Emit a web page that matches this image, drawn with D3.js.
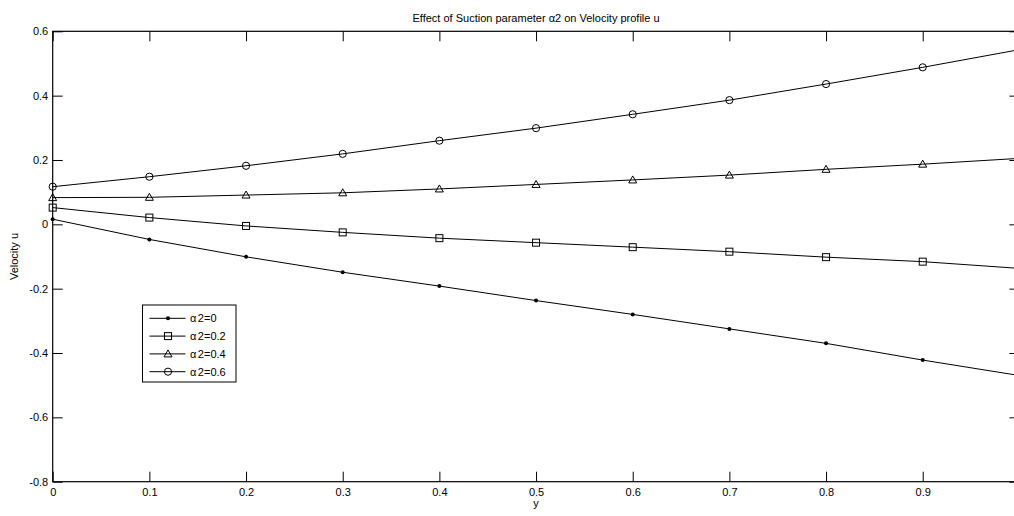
<!DOCTYPE html>
<html>
<head>
<meta charset="utf-8">
<script src="https://cdn.jsdelivr.net/npm/d3@7"></script>
<style>
  body { margin: 0; background: #fff; }
  text { font-family: "Liberation Sans", Arial, sans-serif; font-size: 11px; fill: #000; }
  .axis path.domain { display: none; }
  .axis line { stroke: #000; stroke-width: 1; }
</style>
</head>
<body>
<div id="chart"></div>
<script>
// y positions where u is evaluated
var yVals = [0, 0.1, 0.2, 0.3, 0.4, 0.5, 0.6, 0.7, 0.8, 0.9, 1.0];

// velocity u for each suction parameter alpha2
var uAlpha0  = [0.016, -0.047, -0.101, -0.149, -0.192, -0.237, -0.280, -0.325, -0.370, -0.422, -0.470];
var uAlpha02 = [0.052, 0.021, -0.005, -0.025, -0.043, -0.057, -0.071, -0.085, -0.102, -0.116, -0.137];
var uAlpha04 = [0.083, 0.084, 0.091, 0.098, 0.110, 0.124, 0.138, 0.153, 0.171, 0.187, 0.205];
var uAlpha06 = [0.117, 0.148, 0.182, 0.219, 0.260, 0.299, 0.342, 0.386, 0.436, 0.488, 0.543];

var seriesNames = ["0", "0.2", "0.4", "0.6"];
var seriesMarkers = ["dot", "square", "triangle", "circle"];

// the tick at 1 falls just outside the window, so it is left out
var xTicks = [0, 0.1, 0.2, 0.3, 0.4, 0.5, 0.6, 0.7, 0.8, 0.9];
var yTicks = [-0.8, -0.6, -0.4, -0.2, 0, 0.2, 0.4, 0.6];

var series = [uAlpha0, uAlpha02, uAlpha04, uAlpha06].map(function(vals, i) {
  return {
    name: seriesNames[i],
    marker: seriesMarkers[i],
    points: vals.map(function(v, j) { return {y: yVals[j], u: v}; })
  };
});

var totalW = 1014, totalH = 516;
var margin = {top: 31.3, left: 52.7, right: -5.4, bottom: 34.3};
var width = totalW - margin.left - margin.right,
    height = totalH - margin.top - margin.bottom;

var svg = d3.select("#chart").append("svg")
    .attr("width", totalW)
    .attr("height", totalH);

var g = svg.append("g")
    .attr("transform", "translate(" + margin.left + "," + margin.top + ")");

var x = d3.scaleLinear().domain([0, 1]).range([0, width]);
var y = d3.scaleLinear().domain([-0.8, 0.6]).range([height, 0]);

var fmt = function(d) { return String(+d.toFixed(1)); };

// axes with inward ticks, like matlab
g.append("g").attr("class", "axis")
    .attr("transform", "translate(0," + height + ")")
    .call(d3.axisBottom(x).tickValues(xTicks).tickFormat(fmt).tickSizeInner(-10).tickSizeOuter(0).tickPadding(7));

g.append("g").attr("class", "axis")
    .call(d3.axisTop(x).tickValues(xTicks).tickFormat("").tickSizeInner(-10).tickSizeOuter(0));

g.append("g").attr("class", "axis")
    .call(d3.axisLeft(y).tickValues(yTicks).tickFormat(fmt).tickSizeInner(-10).tickSizeOuter(0).tickPadding(4.5));

g.append("g").attr("class", "axis")
    .attr("transform", "translate(" + width + ",0)")
    .call(d3.axisRight(y).tickValues(yTicks).tickFormat("").tickSizeInner(-10).tickSizeOuter(0));

// box
g.append("rect")
    .attr("x", 0).attr("y", 0)
    .attr("width", width).attr("height", height)
    .attr("fill", "none")
    .attr("stroke", "#000")
    .attr("stroke-width", 1.2);

var line = d3.line()
    .x(function(d) { return x(d.y); })
    .y(function(d) { return y(d.u); });

function drawMarker(sel, type) {
  if (type === "dot") {
    sel.append("circle").attr("r", 2).attr("fill", "#000");
  } else if (type === "square") {
    sel.append("rect").attr("x", -3.5).attr("y", -3.5).attr("width", 7).attr("height", 7)
      .attr("fill", "none").attr("stroke", "#000");
  } else if (type === "triangle") {
    sel.append("path").attr("d", "M0,-4L4,3L-4,3Z")
      .attr("fill", "none").attr("stroke", "#000");
  } else {
    sel.append("circle").attr("r", 3.6)
      .attr("fill", "none").attr("stroke", "#000");
  }
}

series.forEach(function(s) {
  g.append("path")
    .datum(s.points)
    .attr("fill", "none")
    .attr("stroke", "#000")
    .attr("stroke-width", 1)
    .attr("d", line);

  g.selectAll(null)
    .data(s.points)
    .enter()
    .append("g")
    .attr("transform", function(d) { return "translate(" + x(d.y) + "," + y(d.u) + ")"; })
    .each(function() { drawMarker(d3.select(this), s.marker); });
});

// title and axis labels
svg.append("text")
    .attr("x", margin.left + width / 2)
    .attr("y", 21.5)
    .attr("text-anchor", "middle")
    .text("Effect of Suction parameter \u03b12 on Velocity profile u");

svg.append("text")
    .attr("x", margin.left + width / 2)
    .attr("y", 507)
    .attr("text-anchor", "middle")
    .text("y");

svg.append("text")
    .attr("transform", "translate(17.5," + (margin.top + height / 2) + ") rotate(-90)")
    .attr("text-anchor", "middle")
    .text("Velocity u");

// legend
var legend = svg.append("g").attr("transform", "translate(142.5,305)");
legend.append("rect")
    .attr("width", 93.5).attr("height", 77)
    .attr("fill", "#fff")
    .attr("stroke", "#000")
    .attr("stroke-width", 1);

series.forEach(function(s, i) {
  var row = legend.append("g").attr("transform", "translate(0," + (13.3 + i * 17.8) + ")");
  row.append("line")
    .attr("x1", 7).attr("x2", 43)
    .attr("stroke", "#000");
  drawMarker(row.append("g").attr("transform", "translate(25.5,0)"), s.marker);
  var t = row.append("text").attr("x", 47.5).attr("dy", "0.35em");
  t.append("tspan").text("\u03b1");
  t.append("tspan").attr("dx", 1.5).text("2=" + s.name);
});
</script>
</body>
</html>
